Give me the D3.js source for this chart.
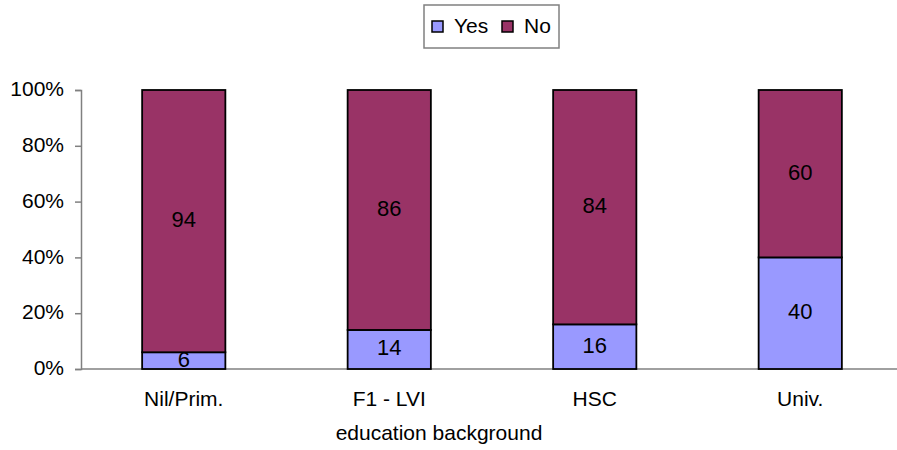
<!DOCTYPE html>
<html><head><meta charset="utf-8">
<script src="https://cdn.jsdelivr.net/npm/d3@7"></script>
<style>body{margin:0;background:#fff}svg{display:block;font-family:"Liberation Sans",Arial,sans-serif}</style>
</head><body>
<svg id="c" width="897" height="450"></svg>
<script>
const categories = ["Nil/Prim.", "F1 - LVI", "HSC", "Univ."];
const yesValues = [6, 14, 16, 40];
const noValues = [94, 86, 84, 60];
const seriesNames = ["Yes", "No"];
const seriesColors = ["#9999FF", "#993366"];
const yTicks = [0, 20, 40, 60, 80, 100];
const xTitle = "education background";

(function () {
const svg = d3.select("#c");
const FONT = "Liberation Sans, Arial, sans-serif";
const mLeft = 81, mRight = 903, mTop = 90, mBottom = 369;
const x = d3.scaleBand().domain(categories).range([mLeft, mRight]).paddingInner(0.595).paddingOuter(0.2975);
const y = d3.scaleLinear().domain([0, 100]).range([mBottom, mTop]);

const rows = categories.map((c, i) => ({cat: c, Yes: yesValues[i], No: noValues[i]}));
const stack = d3.stack().keys(seriesNames)(rows);

const yAxis = svg.append("g").attr("transform", `translate(${mLeft},0)`)
  .call(d3.axisLeft(y).tickValues(yTicks).tickSize(6).tickPadding(11).tickFormat(d => d + "%"));
yAxis.select(".domain").attr("stroke", "#808080").attr("stroke-width", 1.5);
yAxis.selectAll(".tick line").attr("stroke", "#808080").attr("stroke-width", 1.5);
yAxis.selectAll("text").attr("font-size", 21).attr("dy", "0.27em").attr("fill", "#000").attr("font-family", FONT);

const xAxis = svg.append("g").attr("transform", `translate(0,${mBottom})`)
  .call(d3.axisBottom(x).tickSize(0).tickPadding(22));
xAxis.select(".domain").attr("stroke", "#808080").attr("stroke-width", 1.5).attr("d", `M${mLeft},0H897`);
xAxis.selectAll("text").attr("font-size", 21).attr("dy", "0.71em").attr("fill", "#000").attr("font-family", FONT);

svg.append("text").attr("x", 439).attr("y", 440)
  .attr("text-anchor", "middle").attr("font-size", 21).text(xTitle);

stack.forEach((s, si) => {
  const g = svg.append("g");
  g.selectAll("rect").data(s).join("rect")
    .attr("x", d => x(d.data.cat)).attr("width", x.bandwidth())
    .attr("y", d => y(d[1])).attr("height", d => y(d[0]) - y(d[1]))
    .attr("fill", seriesColors[si]).attr("stroke", "#000").attr("stroke-width", 1.8);
  g.selectAll("text").data(s).join("text")
    .attr("x", d => x(d.data.cat) + x.bandwidth() / 2)
    .attr("y", d => (y(d[0]) + y(d[1])) / 2 - 2)
    .attr("dy", "0.36em").attr("text-anchor", "middle").attr("font-size", 22)
    .text(d => d[1] - d[0]);
});

const lg = svg.append("g");
lg.append("rect").attr("x", 424).attr("y", 5).attr("width", 135).attr("height", 43)
  .attr("fill", "#fff").attr("stroke", "#808080").attr("stroke-width", 1.5);
const lx = [432, 502];
seriesNames.forEach((n, i) => {
  lg.append("rect").attr("x", lx[i]).attr("y", 21).attr("width", 11).attr("height", 11)
    .attr("fill", seriesColors[i]).attr("stroke", "#000").attr("stroke-width", 1.5);
  lg.append("text").attr("x", lx[i] + 22).attr("y", 33).attr("font-size", 21).text(n);
});
})();
</script>
</body></html>
